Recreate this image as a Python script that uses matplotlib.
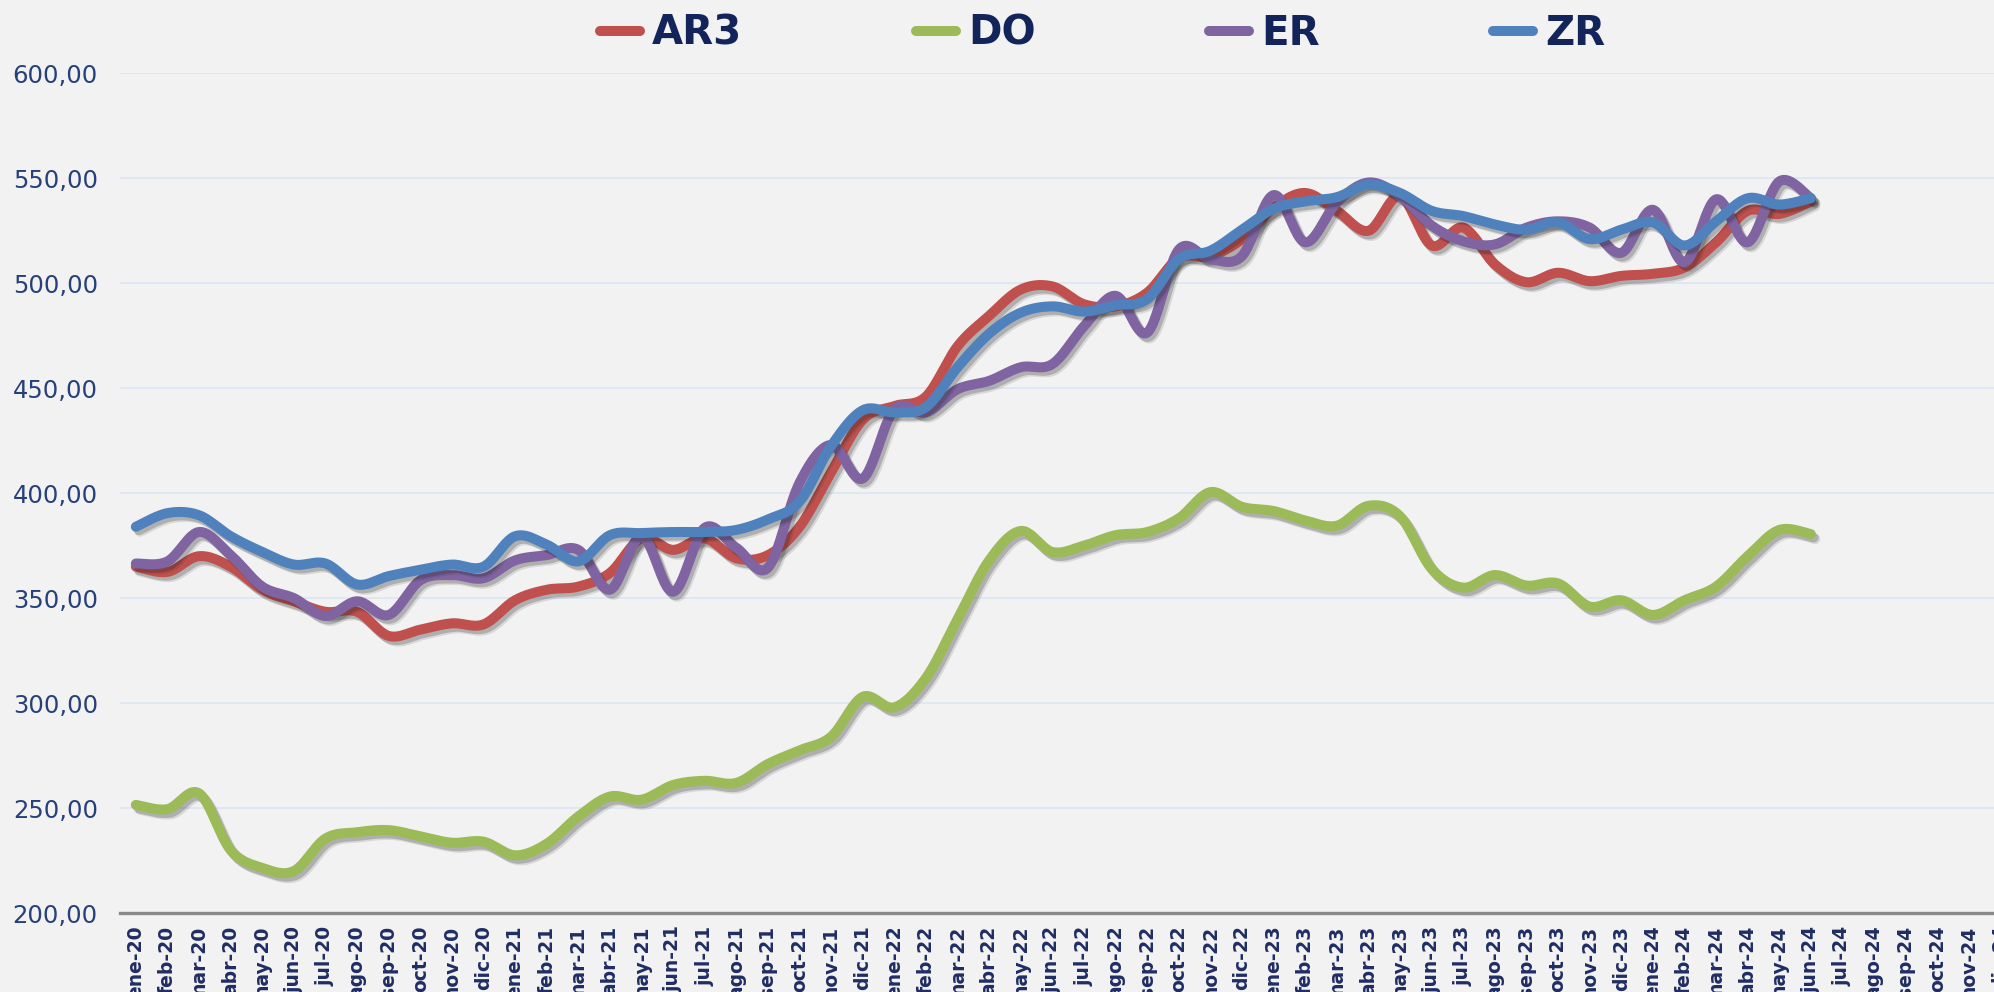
import numpy as np
import matplotlib
matplotlib.use('Agg')
import matplotlib.pyplot as plt
import matplotlib.patheffects as pe
from matplotlib.lines import Line2D
from matplotlib import font_manager

# monthly values, ene-20 .. jun-24
months_es = ['ene', 'feb', 'mar', 'abr', 'may', 'jun',
             'jul', 'ago', 'sep', 'oct', 'nov', 'dic']
years = ['20', '21', '22', '23', '24']
labels = [m + '-' + y for y in years for m in months_es]

ar3 = [365, 362.5, 370, 365, 354, 348.5, 343.5, 343.5, 332, 335, 338, 337.5,
       349, 354, 355.5, 362, 378.5, 373, 378.5, 369, 370.5, 384, 410, 435,
       441.5, 446, 470, 484.5, 497, 498.5, 490, 489, 495.5, 512, 513, 521,
       536, 543, 534.5, 525, 541.5, 518, 526.5, 509, 500.5, 505, 501, 503.5,
       504.5, 507.5, 519.5, 534.5, 533, 539]
do = [251.5, 249.5, 257, 230, 221.5, 220, 235.5, 238.5, 239.5, 236.5, 233.5, 234,
      227.5, 233, 246, 255.5, 254, 261, 263, 262, 271, 277.5, 284, 303,
      298, 312, 340, 368, 382, 372, 375, 380, 381.5, 388, 400.5, 393.5,
      391.5, 387, 384.5, 394, 389, 364, 355, 361, 356, 357, 346, 349,
      342, 349, 355.5, 370, 382.5, 380.5]
er = [366.5, 367.5, 381.5, 370.5, 355.5, 350, 341.5, 348.5, 342, 358.5, 361, 359.5,
      368, 370.5, 373, 354, 379.5, 353, 383.5, 374, 364.5, 405, 423, 407,
      440, 438.5, 449.5, 453.5, 460, 461.5, 479.5, 494, 476.5, 516, 511.5, 513,
      542, 519.5, 538.5, 548, 541.5, 527.5, 520, 518.5, 526.5, 529.5, 526.5, 514.5,
      535, 510, 540, 519.5, 548.5, 540.5]
zr = [384, 390.5, 389.5, 379.5, 372, 366, 366.5, 356.5, 360.5, 363.5, 366, 365,
      379.5, 375.5, 367.5, 380, 381, 381.5, 381.5, 382.5, 387.5, 396, 422.5, 439.5,
      438.5, 441, 460, 476, 486, 489, 486.5, 489.5, 492.5, 511.5, 515.5, 525.5,
      535.5, 539, 541, 547, 543, 534.5, 532, 528, 525.5, 529, 521, 525.5,
      529, 518, 529.5, 540.5, 537.5, 540.5]

series = [('AR3', ar3, '#C0504D'), ('DO', do, '#9BBB59'),
          ('ER', er, '#8064A2'), ('ZR', zr, '#4F81BD')]


def smooth(y, n=24):
    # excel-like smoothed line: bezier through every point
    pts = np.column_stack([np.arange(len(y), dtype=float), np.asarray(y, float)])
    p = np.vstack([pts[0], pts, pts[-1]])
    t = np.linspace(0, 1, n, endpoint=False)[:, None]
    out = []
    for i in range(1, len(p) - 2):
        p0, p1, p2, p3 = p[i - 1], p[i], p[i + 1], p[i + 2]
        c1 = p1 + (p2 - p0) / 6.
        c2 = p2 - (p3 - p1) / 6.
        out.append((1 - t)**3 * p1 + 3 * (1 - t)**2 * t * c1
                   + 3 * (1 - t) * t**2 * c2 + t**3 * p2)
    out.append(pts[-1:])
    return np.vstack(out)


names = {f.name for f in font_manager.fontManager.ttflist}
narrow = 'Liberation Sans Narrow' if 'Liberation Sans Narrow' in names else 'DejaVu Sans'

navy = '#1F2D63'
bg = '#F2F2F2'

fig = plt.figure(figsize=(19.94, 9.92), dpi=100, facecolor=bg)
ax = fig.add_axes([0.0602, 0.0796, 0.951, 0.8465], facecolor=bg)

shadow = [pe.SimpleLineShadow(offset=(2.0, -2.5), shadow_color='#202020', alpha=0.22),
          pe.SimpleLineShadow(offset=(3.2, -3.6), shadow_color='#202020', alpha=0.12),
          pe.Normal()]

for name, vals, col in series:
    xy = smooth(vals)
    ax.plot(xy[:, 0], xy[:, 1], color=col, lw=7.2, solid_capstyle='round',
            solid_joinstyle='round', path_effects=shadow, zorder=3)

ax.set_xlim(-0.5, len(labels) - 0.5)
ax.set_ylim(200, 600)
ax.set_yticks(np.arange(200, 601, 50))
ax.yaxis.set_major_formatter(matplotlib.ticker.FuncFormatter(
    lambda v, p: ('%.2f' % v).replace('.', ',')))
ax.set_xticks(np.arange(len(labels)))
ax.set_xticklabels(labels, rotation=90, fontsize=13.5, fontweight='bold',
                   color=navy, family=[narrow, 'DejaVu Sans'])
ax.tick_params(axis='x', length=0, pad=9)
ax.tick_params(axis='y', length=0, pad=16, labelsize=17.5, labelcolor='#26407A')

ax.grid(axis='y', color='#DCE6F2', lw=1.3, zorder=0)
for s in ['left', 'right', 'top']:
    ax.spines[s].set_visible(False)
ax.spines['bottom'].set_color('#8A8A8A')
ax.spines['bottom'].set_linewidth(2.4)
ax.spines['bottom'].set_zorder(2)

handles = [Line2D([0], [0], color=c, lw=7.2, solid_capstyle='round') for _, _, c in series]
fig.legend(handles, [s[0] for s in series], loc='center', bbox_to_anchor=(0.553, 0.966),
           ncol=4, frameon=False, handlelength=1.0, handletextpad=0.3, columnspacing=4.3,
           prop={'family': [narrow, 'DejaVu Sans'], 'weight': 'bold', 'size': 29},
           labelcolor='#13245A')

fig.savefig('out.png', dpi=100, facecolor=bg)
